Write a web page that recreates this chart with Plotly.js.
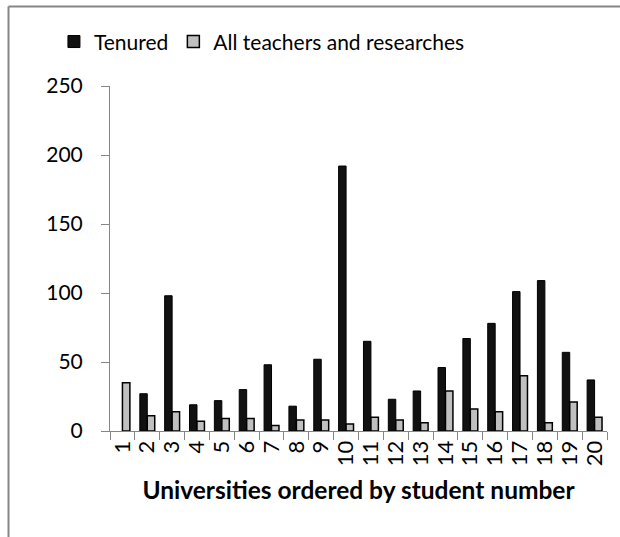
<!DOCTYPE html>
<html>
<head>
<meta charset="utf-8">
<script src="https://cdn.plot.ly/plotly-3.0.1.min.js"></script>
<style>
html,body{margin:0;padding:0;background:#fff;}
#chart{width:620px;height:537px;}
</style>
</head>
<body>
<div id="chart"></div>
<script>
const universities = ["1","2","3","4","5","6","7","8","9","10","11","12","13","14","15","16","17","18","19","20"];
const tenured = [null, 27, 98, 19, 22, 30, 48, 18, 52, 192, 65, 23, 29, 46, 67, 78, 101, 109, 57, 37];
const allTeachers = [35, 11, 14, 7, 9, 9, 4, 8, 8, 5, 10, 8, 6, 29, 16, 14, 40, 6, 21, 10];
const yTicks = [0, 50, 100, 150, 200, 250];

const FONT = "Lato, 'Open Sans', sans-serif";
const axisGrey = "#868686";

const traces = [
  {
    type: "bar", name: "Tenured", x: universities, y: tenured,
    marker: {color: "#111111", line: {color: "#000000", width: 1}}
  },
  {
    type: "bar", name: "All teachers and researches", x: universities, y: allTeachers,
    marker: {color: "#c0c0c0", line: {color: "#000000", width: 1.5}}
  }
];

const layout = {
  width: 620, height: 537,
  margin: {l: 110, r: 13, t: 86, b: 106},
  paper_bgcolor: "#ffffff", plot_bgcolor: "#ffffff",
  font: {family: FONT, size: 21, color: "#000000"},
  barmode: "group", bargap: 0.4, bargroupgap: 0,
  showlegend: true,
  legend: {
    orientation: "h", xref: "container", yref: "container",
    x: 0.087, xanchor: "left", y: 0.922, yanchor: "middle",
    bgcolor: "rgba(0,0,0,0)",
    font: {family: FONT, size: 21, color: "#000"}, itemwidth: 30, traceorder: "normal"
  },
  xaxis: {
    type: "category", showgrid: false, showline: true, linecolor: axisGrey, linewidth: 1,
    tickmode: "array", tickvals: universities, ticktext: universities,
    ticks: "outside", ticklen: 8, tickcolor: axisGrey, tickwidth: 1, tickson: "boundaries",
    tickangle: -90, tickfont: {family: FONT, size: 22},
    title: {text: "<b>Universities ordered by student number</b>", font: {family: FONT, size: 24.5}, standoff: 16},
    automargin: false
  },
  yaxis: {
    range: [0, 250], tickvals: yTicks, showgrid: false, zeroline: false,
    showline: true, linecolor: axisGrey, linewidth: 1,
    ticks: "outside", ticklen: 8, tickcolor: axisGrey, tickwidth: 1,
    tickfont: {family: FONT, size: 21}, ticklabelstandoff: 14, automargin: false
  },
  shapes: [
    {type: "line", xref: "paper", yref: "paper", x0: -0.2042, x1: -0.2042, y0: 1.2304, y1: -0.4, line: {color: axisGrey, width: 2}},
    {type: "line", xref: "paper", yref: "paper", x0: -0.2042, x1: 1.1, y0: 1.2304, y1: 1.2304, line: {color: axisGrey, width: 2}}
  ]
};

Plotly.newPlot("chart", traces, layout, {displayModeBar: false, staticPlot: true});
</script>
</body>
</html>
